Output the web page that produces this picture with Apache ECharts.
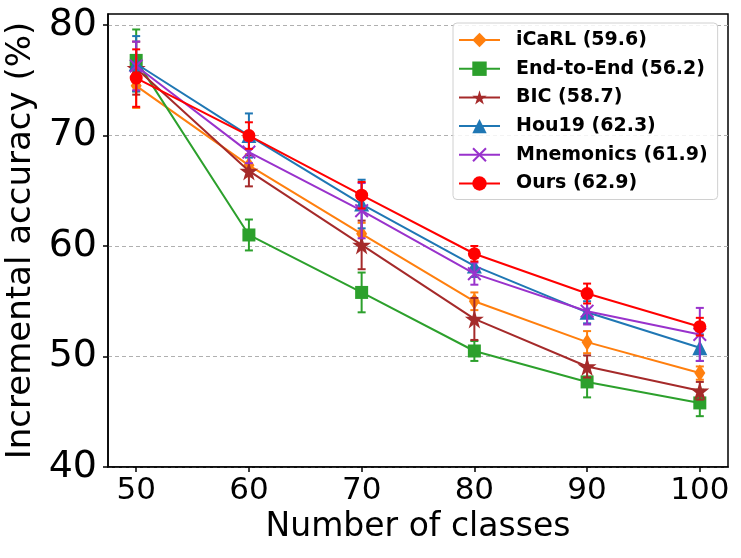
<!DOCTYPE html>
<html>
<head>
<meta charset="utf-8">
<script src="https://cdn.jsdelivr.net/npm/echarts@6/dist/echarts.min.js"></script>
<style>
  html, body { margin: 0; padding: 0; background: #fff; }
  #chart { width: 741px; height: 558px; }
</style>
</head>
<body>
<div id="chart"></div>
<script>
// values
const classes = [50, 60, 70, 80, 90, 100];
const yTicks = [40, 50, 60, 70, 80];

const icarl = [74.5, 67.3, 61.1, 55.0, 51.3, 48.5];
const icarlErr = [2.0, 1.0, 1.0, 0.8, 1.0, 0.6];
const e2e = [76.8, 61.0, 55.8, 50.5, 47.7, 45.8];
const e2eErr = [2.8, 1.4, 1.8, 0.9, 1.4, 1.2];
const bic = [76.1, 66.8, 60.1, 53.4, 49.1, 46.9];
const bicErr = [2.4, 1.4, 2.2, 1.9, 1.0, 0.8];
const hou19 = [76.5, 70.0, 63.8, 58.2, 54.0, 50.8];
const hou19Err = [2.5, 2.0, 2.2, 1.0, 1.0, 1.2];
const mnemonics = [76.3, 68.5, 63.2, 57.5, 54.1, 52.0];
const mnemonicsErr = [2.2, 1.0, 2.5, 1.0, 1.2, 2.4];
const ours = [75.2, 70.0, 64.6, 59.3, 55.7, 52.7];
const oursErr = [2.6, 1.2, 1.2, 0.7, 0.9, 0.8];

const FONT = 'DejaVu Sans';
const STAR = 'path://M50,0 L61,35 L98,35 L68,57 L79,91 L50,70 L21,91 L32,57 L2,35 L39,35 Z';
const CROSS = 'path://M0,2 L2,0 L10,8 L18,0 L20,2 L12,10 L20,18 L18,20 L10,12 L2,20 L0,18 L8,10 Z';

const methods = [
  { name: 'iCaRL (59.6)', data: icarl, err: icarlErr, color: '#ff7f0e', symbol: 'diamond', size: [11, 17] },
  { name: 'End-to-End (56.2)', data: e2e, err: e2eErr, color: '#2ca02c', symbol: 'rect', size: 13 },
  { name: 'BIC (58.7)', data: bic, err: bicErr, color: '#a52a2a', symbol: STAR, size: 19 },
  { name: 'Hou19 (62.3)', data: hou19, err: hou19Err, color: '#1f77b4', symbol: 'triangle', size: 15 },
  { name: 'Mnemonics (61.9)', data: mnemonics, err: mnemonicsErr, color: '#9932cc', symbol: CROSS, size: 14 },
  { name: 'Ours (62.9)', data: ours, err: oursErr, color: '#ff0000', symbol: 'circle', size: 13 },
];

const errorBars = (color) => (params, api) => {
  const top = api.coord([api.value(0), api.value(2)]);
  const bot = api.coord([api.value(0), api.value(1)]);
  const cap = 4;
  const style = { stroke: color, lineWidth: 2 };
  return {
    type: 'group',
    children: [
      { type: 'line', shape: { x1: top[0], y1: top[1], x2: bot[0], y2: bot[1] }, style },
      { type: 'line', shape: { x1: top[0] - cap, y1: top[1], x2: top[0] + cap, y2: top[1] }, style },
      { type: 'line', shape: { x1: bot[0] - cap, y1: bot[1], x2: bot[0] + cap, y2: bot[1] }, style },
    ],
  };
};

const series = [];
methods.forEach((m, i) => {
  series.push({
    name: m.name + ' err',
    type: 'custom',
    renderItem: errorBars(m.color),
    data: classes.map((c, j) => [c, m.data[j] - m.err[j], m.data[j] + m.err[j]]),
    z: 2 + i * 2,
    silent: true,
  });
  series.push({
    name: m.name,
    type: 'line',
    data: classes.map((c, j) => [c, m.data[j]]),
    color: m.color,
    symbol: m.symbol,
    symbolSize: m.size,
    showAllSymbol: true,
    lineStyle: { width: 2, color: m.color },
    itemStyle: { color: m.color, opacity: 1 },
    z: 3 + i * 2,
    animation: false,
  });
});

const chart = echarts.init(document.getElementById('chart'));
chart.setOption({
  animation: false,
  backgroundColor: '#fff',
  grid: {
    left: 108, right: 13, top: 14, bottom: 91,
    outerBoundsMode: 'none',
    show: true, borderColor: '#000', borderWidth: 1.5,
  },
  xAxis: {
    type: 'value',
    min: 47.5, max: 102.5,
    name: 'Number of classes',
    nameLocation: 'middle',
    nameGap: 44,
    nameTextStyle: { fontFamily: FONT, fontSize: 33, color: '#000' },
    axisLine: { show: true, lineStyle: { color: '#000', width: 1.5 } },
    axisTick: { show: true, customValues: classes, length: 5, lineStyle: { color: '#000', width: 1.5 } },
    axisLabel: { customValues: classes, fontFamily: FONT, fontSize: 31, color: '#000', margin: 8 },
    splitLine: { show: false },
  },
  yAxis: {
    type: 'value',
    min: 40, max: 81,
    name: 'Incremental accuracy (%)',
    nameLocation: 'middle',
    nameGap: 66,
    nameTextStyle: { fontFamily: FONT, fontSize: 34, color: '#000' },
    axisLine: { show: true, lineStyle: { color: '#000', width: 1.5 } },
    axisTick: { show: true, customValues: yTicks, length: 5, lineStyle: { color: '#000', width: 1.5 } },
    axisLabel: { customValues: yTicks, fontFamily: FONT, fontSize: 38, color: '#000', margin: 11 },
    splitLine: { show: true, lineStyle: { color: '#b0b0b0', type: [4, 3], width: 1 } },
  },
  legend: {
    data: methods.map(m => m.name),
    orient: 'vertical',
    left: 453, top: 23,
    padding: [7, 10, 6, 5],
    itemWidth: 41, itemHeight: 18, itemGap: 8.7,
    backgroundColor: 'rgba(255,255,255,0.85)',
    borderColor: '#d0d0d0', borderWidth: 1, borderRadius: 4,
    textStyle: {
      fontFamily: FONT, fontSize: 19, fontWeight: 'bold', color: '#000',
      lineHeight: 20, padding: [0, 0, 0, 11],
    },
  },
  series,
});
</script>
</body>
</html>
